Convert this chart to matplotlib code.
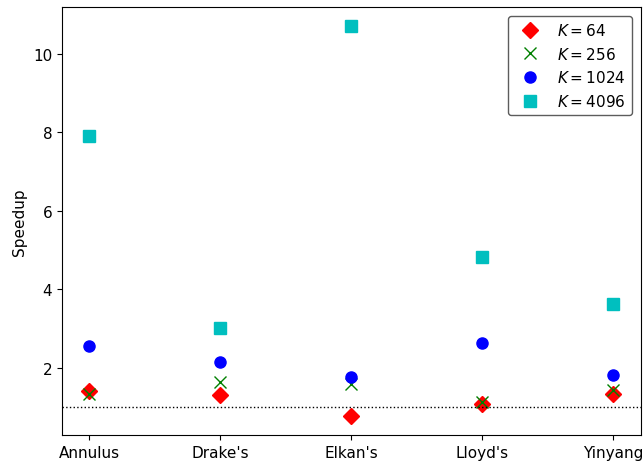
import numpy as np
import matplotlib.pyplot as plt

algoritmos = ["Annulus", "Drake's", "Elkan's", "Lloyd's", "Yinyang"]
k64 = [1.41, 1.31, 0.77, 1.08, 1.33]
k256 = [1.33, 1.64, 1.59, 1.13, 1.43]
k1024 = [2.55, 2.15, 1.76, 2.63, 1.82]
k4096 = [7.90, 3.01, 10.71, 4.82, 3.62]

series = [
    (k64, 'rD', '$K = 64$'),
    (k256, 'gx', '$K = 256$'),
    (k1024, 'bo', '$K = 1024$'),
    (k4096, 'cs', '$K = 4096$'),
]

plt.rcParams['font.size'] = 11

fig = plt.figure(figsize=(6.43, 4.64), dpi=100)
ax = fig.add_axes([0.0964, 0.0603, 0.9006, 0.9227])

x = np.arange(len(algoritmos))
for valores, fmt, rotulo in series:
    ax.plot(x, valores, fmt, markersize=8, label=rotulo)

# linha de referencia: speedup = 1
ax.axhline(1, color='k', linestyle=':', lw=1)
ax.set_xticks(x)
ax.set_xticklabels(algoritmos)
ax.set_xlim(-0.206, 4.214)
ax.set_ylim(0.29, 11.2)
ax.set_yticks([2, 4, 6, 8, 10])
ax.set_ylabel("Speedup")
ax.legend(loc='upper right', edgecolor='0.2', borderaxespad=0.6)

fig.savefig("out.png", dpi=100)
